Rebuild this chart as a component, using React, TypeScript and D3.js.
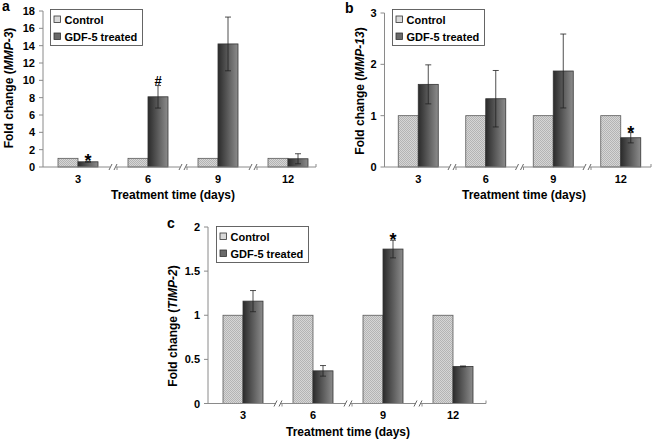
import React, { useEffect, useRef } from 'react';
import * as d3 from 'd3';

const days = ['3', '6', '9', '12'];

const controlA = [1, 1, 1, 1];
const treatedA = [0.6, 8.1, 14.2, 0.95];
const errA = [0.05, 1.3, 3.1, 0.58];
const markA = ['*', '#', '', ''];

const controlB = [1, 1, 1, 1];
const treatedB = [1.61, 1.33, 1.87, 0.57];
const errB = [0.38, 0.55, 0.72, 0.1];
const markB = ['', '', '', '*'];

const controlC = [1, 1, 1, 1];
const treatedC = [1.16, 0.37, 1.75, 0.42];
const errC = [0.12, 0.06, 0.1, 0.005];
const markC = ['', '', '*', ''];

const ticksA = [0, 2, 4, 6, 8, 10, 12, 14, 16, 18];
const ticksB = [0, 1, 2, 3];
const ticksC = [0, 0.5, 1, 1.5, 2];

const FONT = 'Liberation Sans, Arial, Helvetica, sans-serif';

function drawPanel(svg: any, p: any) {
  const g = svg.append('g');

  const y = d3.scaleLinear().domain(p.domain).range([p.y0, p.y1]);
  const x = d3.scaleBand().domain(days).range([p.x0, p.x0 + p.bw * 4]);
  const bw = x.bandwidth();
  const inner = d3.scaleBand().domain(['c', 't']).range([bw / 2 - 20, bw / 2 + 20]);

  // bars
  days.forEach((d, i) => {
    g.append('rect')
      .attr('x', x(d)! + inner('c')!)
      .attr('y', y(p.control[i]))
      .attr('width', inner.bandwidth())
      .attr('height', y(0) - y(p.control[i]))
      .attr('fill', 'url(#checker)')
      .attr('stroke', '#5a5a5a')
      .attr('stroke-width', 0.8);
    g.append('rect')
      .attr('x', x(d)! + inner('t')!)
      .attr('y', y(p.treated[i]))
      .attr('width', inner.bandwidth())
      .attr('height', y(0) - y(p.treated[i]))
      .attr('fill', 'url(#dark)')
      .attr('stroke', '#333')
      .attr('stroke-width', 0.8);

    // error bar
    const cx = x(d)! + inner('t')! + inner.bandwidth() / 2;
    const top = y(p.treated[i] + p.err[i]);
    const bot = y(p.treated[i] - p.err[i]);
    g.append('line').attr('x1', cx).attr('x2', cx).attr('y1', top).attr('y2', bot)
      .attr('stroke', '#222').attr('stroke-width', 0.8);
    [top, bot].forEach((yy) => {
      g.append('line').attr('x1', cx - 3).attr('x2', cx + 3).attr('y1', yy).attr('y2', yy)
        .attr('stroke', '#222').attr('stroke-width', 0.8);
    });

    if (p.mark[i]) {
      const star = p.mark[i] === '*';
      g.append('text')
        .attr('x', cx)
        .attr('y', star ? top + 6 : top - 1)
        .attr('text-anchor', 'middle')
        .style('font-family', FONT)
        .style('font-weight', 'bold')
        .style('font-size', star ? '18px' : '13px')
        .text(p.mark[i]);
    }
  });

  // y axis
  g.append('line').attr('x1', p.x0).attr('x2', p.x0).attr('y1', p.y1).attr('y2', p.y0)
    .attr('stroke', '#8a8a8a').attr('stroke-width', 1);
  p.ticks.forEach((t: number) => {
    g.append('line').attr('x1', p.x0 - 4).attr('x2', p.x0).attr('y1', y(t)).attr('y2', y(t))
      .attr('stroke', '#8a8a8a');
    g.append('text')
      .attr('x', p.x0 - 8)
      .attr('y', y(t) + 4)
      .attr('text-anchor', 'end')
      .style('font-family', FONT)
      .style('font-weight', 'bold')
      .style('font-size', '11px')
      .text(String(t));
  });

  // x axis with breaks
  g.append('line').attr('x1', p.x0).attr('x2', p.xEnd).attr('y1', y(0)).attr('y2', y(0))
    .attr('stroke', '#8a8a8a').attr('stroke-width', 1);
  g.append('line').attr('x1', p.xEnd).attr('x2', p.xEnd).attr('y1', y(0) - 3).attr('y2', y(0))
    .attr('stroke', '#8a8a8a');
  days.slice(1).forEach((d) => {
    const bx = x(d)!;
    g.append('line').attr('x1', bx - 3).attr('x2', bx + 3).attr('y1', y(0)).attr('y2', y(0))
      .attr('stroke', 'white').attr('stroke-width', 2);
    [bx - 2.5, bx + 2.5].forEach((sx) => {
      g.append('line').attr('x1', sx - 1.5).attr('x2', sx + 1.5).attr('y1', y(0) + 3).attr('y2', y(0) - 3)
        .attr('stroke', '#555').attr('stroke-width', 0.9);
    });
    g.append('line').attr('x1', bx + 4).attr('x2', bx + 4).attr('y1', y(0)).attr('y2', y(0) + 3)
      .attr('stroke', '#8a8a8a');
  });
  days.forEach((d) => {
    g.append('text')
      .attr('x', x(d)! + bw / 2)
      .attr('y', y(0) + 15.5)
      .attr('text-anchor', 'middle')
      .style('font-family', FONT)
      .style('font-weight', 'bold')
      .style('font-size', '11px')
      .text(d);
  });

  // axis titles
  g.append('text')
    .attr('x', p.titleX)
    .attr('y', y(0) + 32)
    .attr('text-anchor', 'middle')
    .style('font-family', FONT)
    .style('font-weight', 'bold')
    .style('font-size', '12px')
    .text('Treatment time (days)');

  const yt = g.append('text')
    .attr('transform', 'translate(' + p.yTitleX + ',' + p.yTitleY + ') rotate(-90)')
    .attr('text-anchor', 'middle')
    .style('font-family', FONT)
    .style('font-weight', 'bold')
    .style('font-size', '12px');
  yt.append('tspan').text('Fold change (');
  yt.append('tspan').style('font-style', 'italic').text(p.gene);
  yt.append('tspan').text(')');

  // panel letter
  g.append('text')
    .attr('x', p.letterX)
    .attr('y', p.letterY)
    .style('font-family', FONT)
    .style('font-weight', 'bold')
    .style('font-size', '14px')
    .text(p.letter);

  // legend
  const lg = g.append('g').attr('transform', 'translate(' + p.legX + ',' + p.legY + ')');
  lg.append('rect').attr('width', 92).attr('height', 36).attr('fill', 'white')
    .attr('stroke', '#555').attr('stroke-width', 0.9);
  [['Control', 'url(#checkerLight)', 14], ['GDF-5 treated', '#6a6a6a', 31]].forEach(([label, fill, by]) => {
    lg.append('rect').attr('x', 3.5).attr('y', (by as number) - 7.5).attr('width', 6.5).attr('height', 6.5)
      .attr('fill', fill as string).attr('stroke', '#333').attr('stroke-width', 0.8);
    lg.append('text')
      .attr('x', 14)
      .attr('y', by as number)
      .style('font-family', FONT)
      .style('font-weight', 'bold')
      .style('font-size', '11px')
      .text(label as string);
  });
}

export default function App() {
  const ref = useRef<SVGSVGElement>(null);

  useEffect(() => {
    const svg = d3.select(ref.current);
    svg.selectAll('*').remove();

    const defs = svg.append('defs');
    const pat = defs.append('pattern').attr('id', 'checker').attr('width', 2).attr('height', 2)
      .attr('patternUnits', 'userSpaceOnUse');
    pat.append('rect').attr('width', 2).attr('height', 2).attr('fill', '#d6d6d6');
    pat.append('rect').attr('width', 1).attr('height', 1).attr('fill', '#b4b4b4');
    pat.append('rect').attr('x', 1).attr('y', 1).attr('width', 1).attr('height', 1).attr('fill', '#b4b4b4');

    const pat2 = defs.append('pattern').attr('id', 'checkerLight').attr('width', 2).attr('height', 2)
      .attr('patternUnits', 'userSpaceOnUse');
    pat2.append('rect').attr('width', 2).attr('height', 2).attr('fill', '#eeeeee');
    pat2.append('rect').attr('width', 1).attr('height', 1).attr('fill', '#c4c4c4');
    pat2.append('rect').attr('x', 1).attr('y', 1).attr('width', 1).attr('height', 1).attr('fill', '#c4c4c4');

    const grad = defs.append('linearGradient').attr('id', 'dark')
      .attr('x1', '0%').attr('x2', '100%').attr('y1', '0%').attr('y2', '0%');
    grad.append('stop').attr('offset', '0%').attr('stop-color', '#2b2b2b');
    grad.append('stop').attr('offset', '100%').attr('stop-color', '#8c8c8c');

    drawPanel(svg, {
      domain: [0, 18], ticks: ticksA, y0: 167, y1: 11, x0: 43, bw: 70, xEnd: 316,
      control: controlA, treated: treatedA, err: errA, mark: markA,
      titleX: 173, yTitleX: 12.5, yTitleY: 88, gene: 'MMP-3',
      letter: 'a', letterX: 2, letterY: 11, legX: 50.5, legY: 9.5,
    });
    drawPanel(svg, {
      domain: [0, 3], ticks: ticksB, y0: 167, y1: 13, x0: 384.5, bw: 67.5, xEnd: 651,
      control: controlB, treated: treatedB, err: errB, mark: markB,
      titleX: 524, yTitleX: 364, yTitleY: 91, gene: 'MMP-13',
      letter: 'b', letterX: 345, letterY: 13, legX: 392.5, legY: 9.5,
    });
    drawPanel(svg, {
      domain: [0, 2], ticks: ticksC, y0: 403.5, y1: 227, x0: 208, bw: 70, xEnd: 486,
      control: controlC, treated: treatedC, err: errC, mark: markC,
      titleX: 348, yTitleX: 176.5, yTitleY: 326, gene: 'TIMP-2',
      letter: 'c', letterX: 167, letterY: 228, legX: 216.5, legY: 226.5,
    });
  }, []);

  return (
    <svg
      ref={ref}
      width={654}
      height={439}
      style={{ position: 'absolute', left: 0, top: 0, background: 'white' }}
    />
  );
}
